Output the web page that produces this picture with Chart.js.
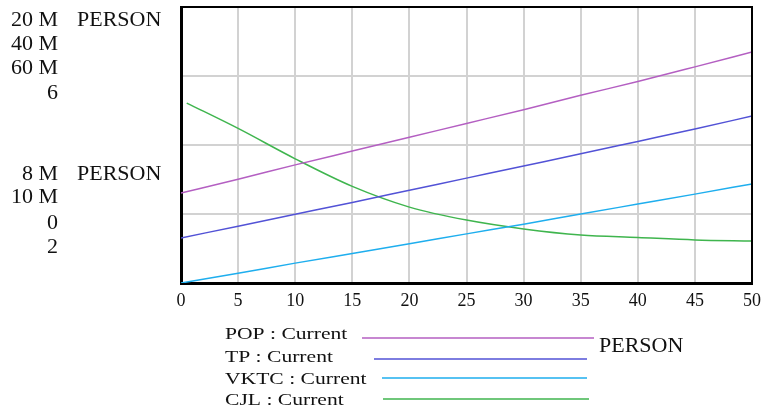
<!DOCTYPE html>
<html>
<head>
<meta charset="utf-8">
<script src="https://cdn.jsdelivr.net/npm/chart.js@4"></script>
<style>
  html, body { margin: 0; padding: 0; background: #fff; }
  #wrap { width: 764px; height: 412px; }
</style>
</head>
<body>
<div id="wrap"><canvas id="chart" width="764" height="412"></canvas></div>
<script>
// valores (eixo em % da altura do painel)
const tempo = [0, 5, 10, 15, 20, 25, 30, 35, 40, 45, 50];
const pop = [32.6, 37.6, 42.8, 47.8, 52.8, 57.8, 62.8, 68.0, 73.0, 78.3, 83.7];
const tp = [16.3, 20.6, 24.9, 29.2, 33.6, 38.0, 42.4, 46.8, 51.3, 55.8, 60.5];
const vktc = [0, 3.5, 7.2, 10.7, 14.2, 17.8, 21.3, 25.0, 28.6, 32.2, 35.9];
const tempoCjl = [0.5, 5, 10, 15, 20, 25, 30, 35, 40, 45, 50];
const cjl = [65.2, 56.0, 45.0, 35.0, 27.5, 22.8, 19.6, 17.4, 16.5, 15.6, 15.2];
const xTicks = [0, 5, 10, 15, 20, 25, 30, 35, 40, 45, 50];
const leftLabels = ['20 M', '40 M', '60 M', '6', '8 M', '10 M', '0', '2'];
const legendNames = ['POP : Current', 'TP : Current', 'VKTC : Current', 'CJL : Current'];
const unitLabel = 'PERSON';

const cores = ['#b45fc2', '#5252d6', '#1eaeee', '#3fb54e'];

function pontos(xs, ys) {
    return xs.map((x, i) => ({ x: x, y: ys[i] }));
}

const serif = '"Liberation Serif", "Times New Roman", serif';

// texto esticado na horizontal (o original é mais largo)
function textoLargo(ctx, txt, x, y, align, fator) {
    ctx.save();
    ctx.translate(x, y);
    ctx.scale(fator, 1);
    ctx.textAlign = align;
    ctx.fillText(txt, 0, 0);
    ctx.restore();
}

const extras = {
    id: 'extras',
    afterDraw(chart) {
        const ctx = chart.ctx;
        const a = chart.chartArea;
        ctx.save();
        // moldura superior e direita
        ctx.strokeStyle = '#000';
        ctx.lineWidth = 2;
        ctx.beginPath();
        ctx.moveTo(a.left, a.top);
        ctx.lineTo(a.right, a.top);
        ctx.lineTo(a.right, a.bottom);
        ctx.stroke();

        // rótulos da esquerda
        ctx.fillStyle = '#111';
        ctx.textBaseline = 'alphabetic';
        ctx.font = '20px ' + serif;
        const baseY = [26, 50, 74, 99, 180, 203, 229, 253];
        leftLabels.forEach((t, i) => textoLargo(ctx, t, 58, baseY[i], 'right', 1.1));
        textoLargo(ctx, unitLabel, 77, 26, 'left', 1.1);
        textoLargo(ctx, unitLabel, 77, 180, 'left', 1.1);
        textoLargo(ctx, unitLabel, 599, 352, 'left', 1.1);

        // legenda
        ctx.font = '17px ' + serif;
        const legY = [339, 362, 384, 405];
        const linhas = [[362, 594, 338], [374, 587, 359], [382, 587, 378], [383, 589, 399]];
        legendNames.forEach((t, i) => {
            ctx.fillStyle = '#111';
            textoLargo(ctx, t, 225, legY[i], 'left', 1.27);
            ctx.strokeStyle = cores[i];
            ctx.lineWidth = 1.5;
            ctx.beginPath();
            ctx.moveTo(linhas[i][0], linhas[i][2]);
            ctx.lineTo(linhas[i][1], linhas[i][2]);
            ctx.stroke();
        });
        ctx.restore();
    }
};

const serie = (label, xs, ys, cor) => ({
    label: label,
    data: pontos(xs, ys),
    borderColor: cor,
    backgroundColor: cor,
    borderWidth: 1.5,
    pointRadius: 0,
    fill: false,
    cubicInterpolationMode: 'monotone'
});

new Chart(document.getElementById('chart'), {
    type: 'line',
    data: {
        datasets: [
            serie('POP', tempo, pop, cores[0]),
            serie('TP', tempo, tp, cores[1]),
            serie('VKTC', tempo, vktc, cores[2]),
            serie('CJL', tempoCjl, cjl, cores[3])
        ]
    },
    options: {
        responsive: false,
        animation: false,
        layout: { padding: { left: 0, top: 7, right: 12, bottom: 99 } },
        plugins: { legend: { display: false }, tooltip: { enabled: false } },
        scales: {
            x: {
                type: 'linear',
                min: 0,
                max: 50,
                afterBuildTicks: (s) => { s.ticks = xTicks.map(v => ({ value: v })); },
                afterFit: (s) => { s.height = 30; s.paddingLeft = 0; s.paddingRight = 0; },
                grid: { color: '#d2d2d2', lineWidth: 2, drawTicks: false },
                border: { color: '#000', width: 3 },
                ticks: {
                    color: '#111',
                    padding: 7,
                    font: { family: serif, size: 18 }
                }
            },
            y: {
                min: 0,
                max: 100,
                ticks: { display: false, stepSize: 25 },
                afterFit: (s) => { s.width = 181; },
                grid: { color: '#d2d2d2', lineWidth: 2, drawTicks: false },
                border: { color: '#000', width: 3 }
            }
        }
    },
    plugins: [extras]
});
</script>
</body>
</html>
